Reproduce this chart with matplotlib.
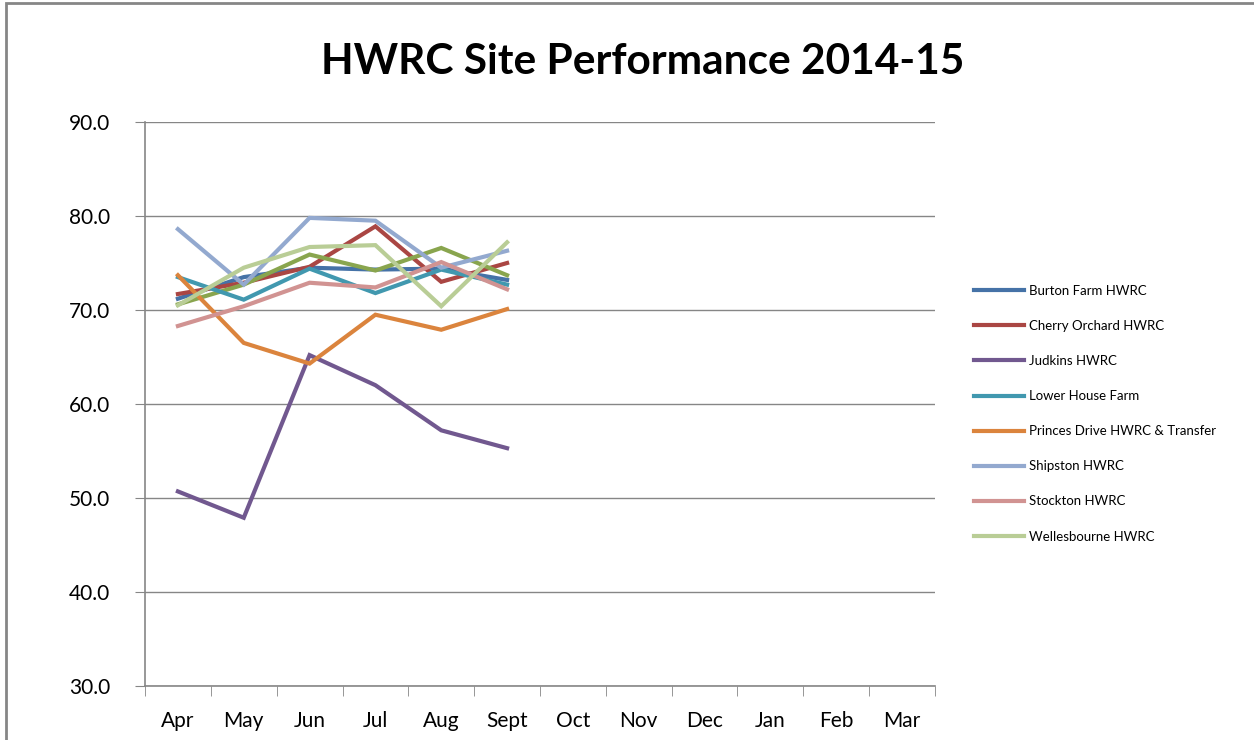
import matplotlib.pyplot as plt
from matplotlib.patches import Rectangle
import numpy as np

months = ['Apr', 'May', 'Jun', 'Jul', 'Aug', 'Sept', 'Oct', 'Nov', 'Dec', 'Jan', 'Feb', 'Mar']

burton_farm = [71.2, 73.5, 74.5, 74.3, 74.4, 73.2]
cherry_orchard = [71.7, 72.9, 74.6, 78.9, 73.0, 75.0]
unlabelled = [70.6, 72.7, 75.9, 74.2, 76.6, 73.7]
judkins = [50.7, 47.9, 65.2, 62.0, 57.2, 55.3]
lower_house = [73.5, 71.1, 74.4, 71.8, 74.3, 72.7]
princes_drive = [73.7, 66.5, 64.3, 69.5, 67.9, 70.1]
shipston = [78.6, 72.7, 79.8, 79.5, 74.5, 76.3]
stockton = [68.3, 70.4, 72.9, 72.4, 75.1, 72.2]
wellesbourne = [70.5, 74.5, 76.7, 76.9, 70.4, 77.2]

series = [
    ('Burton Farm HWRC', burton_farm, '#4572A7'),
    ('Cherry Orchard HWRC', cherry_orchard, '#AA4643'),
    (None, unlabelled, '#89A54E'),
    ('Judkins HWRC', judkins, '#71588F'),
    ('Lower House Farm', lower_house, '#4198AF'),
    ('Princes Drive HWRC & Transfer', princes_drive, '#DB843D'),
    ('Shipston HWRC', shipston, '#93A9CF'),
    ('Stockton HWRC', stockton, '#D19392'),
    ('Wellesbourne HWRC', wellesbourne, '#B9CD96'),
]

plt.rcParams['font.family'] = ['Lato', 'DejaVu Sans']

fig = plt.figure(figsize=(12.54, 7.40), dpi=100)
fig.patches.append(Rectangle((6 / 1254, -0.01), 1.0, 1.0 - 3 / 740 + 0.01,
                             transform=fig.transFigure, fill=False,
                             edgecolor='#868686', linewidth=2))

ax = fig.add_axes([145 / 1254, 1 - 686 / 740, 790 / 1254, 564 / 740])
x = np.arange(len(months))
handles = []
labels = []
for name, vals, col in series:
    line, = ax.plot(x[:len(vals)], vals, color=col, linewidth=3, solid_joinstyle='miter')
    if name:
        handles.append(line)
        labels.append(name)

ax.set_xlim(-0.5, len(months) - 0.5)
ax.set_ylim(30, 90)
ax.set_yticks(np.arange(30, 91, 10))
ax.set_yticklabels(['%.1f' % v for v in np.arange(30, 91, 10)], fontsize=15)
ax.set_xticks(x)
ax.set_xticklabels(months, fontsize=15)
ax.set_xticks(np.arange(-0.5, len(months), 1), minor=True)
ax.tick_params(axis='x', which='major', length=0, pad=18)
ax.tick_params(axis='x', which='minor', length=7, color='#868686', direction='out')
ax.tick_params(axis='y', length=7, color='#868686', direction='out', pad=18)
ax.grid(axis='y', color='#868686', linewidth=1)
ax.set_axisbelow(True)
for s in ['top', 'right']:
    ax.spines[s].set_visible(False)
for s in ['left', 'bottom']:
    ax.spines[s].set_color('#868686')
    ax.spines[s].set_linewidth(1.2)

fig.text(643 / 1254, 1 - 62 / 740, 'HWRC Site Performance 2014-15', ha='center', va='center',
         fontsize=30.5, fontweight='bold')

fig.legend(handles, labels, loc='upper left', bbox_to_anchor=(962 / 1254, 1 - 273 / 740),
           frameon=False, fontsize=9.5, handlelength=3.8, labelspacing=1.75, handletextpad=0.35)

fig.savefig('out.png', dpi=100)
